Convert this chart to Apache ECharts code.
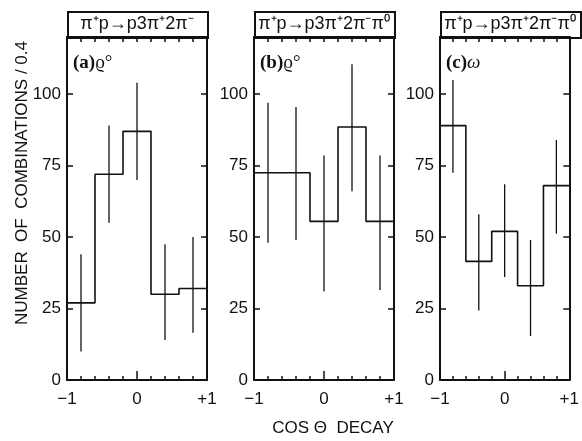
<!DOCTYPE html>
<html>
<head>
<meta charset="utf-8">
<script src="https://cdn.jsdelivr.net/npm/echarts@6/dist/echarts.min.js"></script>
<style>
  html, body { margin: 0; padding: 0; background: #fff; }
  #chart { width: 582px; height: 441px; }
</style>
</head>
<body>
<div id="chart"></div>
<script>
// cos(theta) decay distributions, bins of width 0.4
const binEdges = [-1, -0.6, -0.2, 0.2, 0.6, 1];
const binCenters = [-0.8, -0.4, 0, 0.4, 0.8];

// (a) rho0 in pi+ p -> p 3pi+ 2pi-
const countsA = [27, 72, 87, 30, 32];
const lowA = [10, 55, 70, 14, 16.5];
const highA = [44, 89, 104, 47.5, 50];

// (b) rho0 in pi+ p -> p 3pi+ 2pi- pi0
const countsB = [72.5, 72.5, 55.5, 88.5, 55.5];
const lowB = [48, 49, 31, 66, 31.5];
const highB = [97, 95.5, 78.5, 110.5, 78.5];

// (c) omega in pi+ p -> p 3pi+ 2pi- pi0
const countsC = [89, 41.5, 52, 33, 68];
const lowC = [72.5, 24.3, 36, 15.4, 51.2];
const highC = [105, 58, 68.5, 49, 84];

const reactions = ['π⁺p→p3π⁺2π⁻', 'π⁺p→p3π⁺2π⁻π⁰', 'π⁺p→p3π⁺2π⁻π⁰'];
const panelTags = ['(a)', '(b)', '(c)'];
const panelParticles = ['ϱ°', 'ϱ°', 'ω'];
const particleStyles = ['normal', 'normal', 'italic'];
const yTickValues = [0, 25, 50, 75, 100];
const xTickLabels = { '-1': '−1', '0': '0', '1': '+1' };
const yTitle = 'NUMBER  OF  COMBINATIONS / 0.4';
const xTitle = 'COS Θ  DECAY';

const panels = [
  { counts: countsA, low: lowA, high: highA },
  { counts: countsB, low: lowB, high: highB },
  { counts: countsC, low: lowC, high: highC }
];

const gridLeft = [67, 254, 440];
const gridWidth = 140;
const gridTop = 37;
const gridHeight = 343;
const sans = "'Liberation Sans', Arial, sans-serif";
const serif = "'Liberation Serif', 'DejaVu Serif', serif";
const ink = '#111';

const grids = [], xAxes = [], yAxes = [], series = [], graphics = [];

panels.forEach((p, i) => {
  grids.push({ left: gridLeft[i], width: gridWidth, top: gridTop, height: gridHeight });

  const xBase = { type: 'value', gridIndex: i, min: -1, max: 1, splitLine: { show: false } };
  // bottom axis with minor ticks every 0.2 and labels at -1, 0, +1
  xAxes.push(Object.assign({}, xBase, {
    position: 'bottom', interval: 0.2,
    axisLine: { onZero: false, lineStyle: { color: ink, width: 2 } },
    axisTick: { inside: true, length: 4, lineStyle: { color: ink, width: 1.5 } },
    axisLabel: {
      color: ink, fontFamily: sans, fontSize: 17, margin: 11,
      showMinLabel: true, showMaxLabel: true,
      formatter: v => {
        const r = Math.round(v);
        return Math.abs(v - r) < 1e-6 ? (xTickLabels[String(r)] || '') : '';
      }
    }
  }));
  // longer tick at 0
  xAxes.push(Object.assign({}, xBase, {
    position: 'bottom', interval: 1,
    axisLine: { show: false, onZero: false },
    axisTick: { inside: true, length: 9, lineStyle: { color: ink, width: 1.5 } },
    axisLabel: { show: false }
  }));
  // top axis with inward ticks
  xAxes.push(Object.assign({}, xBase, {
    position: 'top', interval: 0.2,
    axisLine: { onZero: false, lineStyle: { color: ink, width: 2 } },
    axisTick: { inside: true, length: 5, lineStyle: { color: ink, width: 1.5 } },
    axisLabel: { show: false }
  }));

  const yBase = {
    type: 'value', gridIndex: i, min: 0, max: 120, interval: 25,
    splitLine: { show: false },
    axisLine: { show: true, onZero: false, lineStyle: { color: ink, width: 2 } },
    axisTick: { show: true, inside: true, length: 6, lineStyle: { color: ink, width: 1.5 } }
  };
  yAxes.push(Object.assign({}, yBase, {
    position: 'left',
    axisLabel: {
      color: ink, fontFamily: sans, fontSize: 17, margin: 6, showMaxLabel: false,
      formatter: v => (yTickValues.indexOf(v) >= 0 ? String(v) : '')
    }
  }));
  yAxes.push(Object.assign({}, yBase, { position: 'right', axisLabel: { show: false } }));

  // histogram outline
  const stepData = binEdges.slice(0, -1).map((e, k) => [e, p.counts[k]]);
  stepData.push([binEdges[binEdges.length - 1], p.counts[p.counts.length - 1]]);
  series.push({
    type: 'line', step: 'end', xAxisIndex: 3 * i, yAxisIndex: 2 * i,
    data: stepData, symbol: 'none', silent: true,
    lineStyle: { color: ink, width: 1.6 }
  });

  // error bars
  series.push({
    type: 'custom', xAxisIndex: 3 * i, yAxisIndex: 2 * i, silent: true,
    data: binCenters.map((c, k) => [c, p.low[k], p.high[k]]),
    renderItem: (params, api) => {
      const a = api.coord([api.value(0), api.value(1)]);
      const b = api.coord([api.value(0), api.value(2)]);
      return {
        type: 'line',
        shape: { x1: a[0], y1: a[1], x2: b[0], y2: b[1] },
        style: { stroke: ink, lineWidth: 1.3 }
      };
    }
  });

  // reaction header box above each panel
  graphics.push({
    type: 'rect', left: gridLeft[i], top: 11,
    shape: { width: gridWidth, height: gridTop - 11 },
    style: { fill: '#fff', stroke: ink, lineWidth: 2 }
  });
  graphics.push({
    type: 'text', x: gridLeft[i] + gridWidth / 2, y: 24,
    style: {
      text: reactions[i], fill: ink, font: '18px ' + sans,
      textAlign: 'center', textVerticalAlign: 'middle'
    }
  });
  // panel tag
  graphics.push({
    type: 'text', x: gridLeft[i] + 6, y: 63,
    style: {
      text: '{t|' + panelTags[i] + '}{p|' + panelParticles[i] + '}',
      textVerticalAlign: 'middle',
      rich: {
        t: { font: 'bold 19px ' + serif, fill: ink },
        p: { font: particleStyles[i] + ' 19px ' + serif, fill: ink }
      }
    }
  });
});

graphics.push({
  type: 'text', x: 22, y: 183, rotation: Math.PI / 2,
  style: { text: yTitle, fill: ink, font: '17px ' + sans, textAlign: 'center', textVerticalAlign: 'middle' }
});
graphics.push({
  type: 'text', x: 333, y: 428,
  style: { text: xTitle, fill: ink, font: '17px ' + sans, textAlign: 'center', textVerticalAlign: 'middle' }
});

const chart = echarts.init(document.getElementById('chart'), null, { renderer: 'canvas' });
chart.setOption({
  backgroundColor: '#fff',
  animation: false,
  grid: grids,
  xAxis: xAxes,
  yAxis: yAxes,
  series: series,
  graphic: graphics
});
</script>
</body>
</html>
